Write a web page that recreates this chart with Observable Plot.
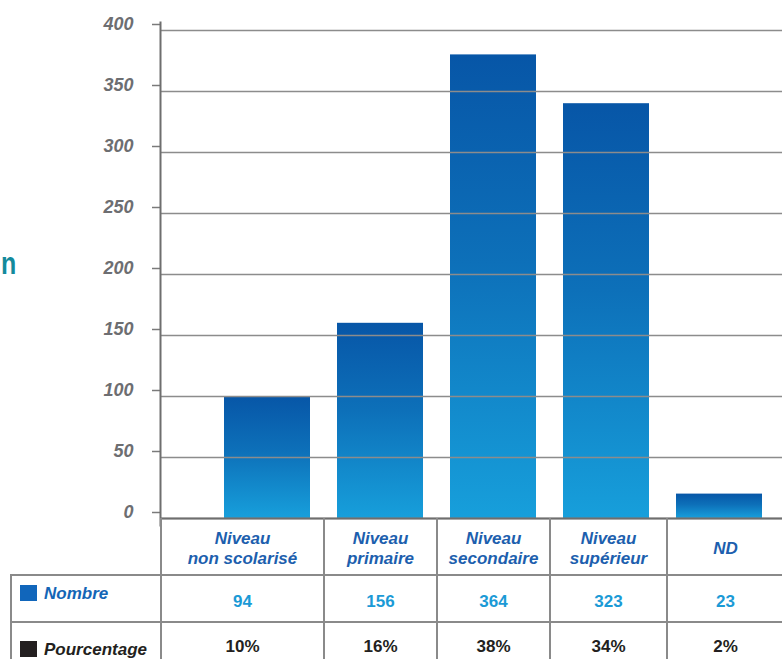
<!DOCTYPE html>
<html>
<head>
<meta charset="utf-8">
<script src="https://cdn.jsdelivr.net/npm/d3@7"></script>
<script src="https://cdn.jsdelivr.net/npm/@observablehq/plot@0.6"></script>
<style>
  html, body { margin: 0; padding: 0; background: #fff; }
  #wrap { position: relative; width: 782px; height: 659px; overflow: hidden; font-family: "Liberation Sans", Arial, sans-serif; }
  #chart { position: absolute; left: 0; top: 0; }
  #cut { position: absolute; left: 1px; top: 247px; font-size: 32px; font-weight: bold; color: #138a9c; line-height: 32px; white-space: nowrap; transform: scaleX(0.78); transform-origin: left center; }
  #tbl { position: absolute; left: 10px; top: 518px; width: 772px; border-collapse: collapse; table-layout: fixed; }
  #tbl td { border: 2px solid #8a8a8a; text-align: center; vertical-align: middle; padding: 0; font-weight: bold; font-size: 17px; }
  #tbl tr.hdr td { height: 57px; border-top: none; font-style: italic; color: #1d5fae; line-height: 20px; padding-top: 6px; box-sizing: border-box; }
  #tbl tr.num td { height: 47px; color: #1b9ad6; padding-top: 6px; box-sizing: border-box; }
  #tbl tr.pct td { height: 47px; color: #231f20; padding-top: 3px; box-sizing: border-box; }
  #tbl td.corner { border-left: none; border-top: none; border-bottom: 2px solid #8a8a8a; }
  #tbl td.last { border-right: none; }
  #tbl td.lab { text-align: left; font-style: italic; padding-left: 8px; white-space: nowrap; }
  #tbl td.lab span.sq { display: inline-block; width: 17px; height: 16px; margin-right: 7px; vertical-align: -2px; }
  #tbl tr.num td.lab { color: #1466b6; padding-top: 0; }
  #tbl tr.num td.lab .inner { position: relative; top: -5px; }
  #tbl tr.pct td.lab { padding-top: 0; }
  #tbl tr.pct td.lab .inner { position: relative; top: 4px; }
</style>
</head>
<body>
<div id="wrap">
  <div id="chart"></div>
  <div id="cut">n</div>
  <table id="tbl"></table>
</div>
<script>
// ---- data ----
const categories = ["Niveau non scolarisé", "Niveau primaire", "Niveau secondaire", "Niveau supérieur", "ND"];
const headerLines = [["Niveau", "non scolarisé"], ["Niveau", "primaire"], ["Niveau", "secondaire"], ["Niveau", "supérieur"], ["ND"]];
const barHeights = [100, 160, 380, 340, 20];       // bar heights as drawn in the picture
const nombre = [94, 156, 364, 323, 23];             // values printed in the table
const pourcentage = ["10%", "16%", "38%", "34%", "2%"];
const rowLabels = ["Nombre", "Pourcentage"];
const yTicks = [0, 50, 100, 150, 200, 250, 300, 350, 400];

const data = categories.map((c, i) => ({cat: c, h: barHeights[i]}));

const chart = Plot.plot({
  width: 782,
  height: 530,
  marginTop: 30,
  marginBottom: 12,
  marginLeft: 160,
  marginRight: 0,
  style: {background: "transparent", fontFamily: "'Liberation Sans', Arial, sans-serif", overflow: "visible"},
  x: {domain: categories, range: [209, 777], paddingInner: 0.24, paddingOuter: 0.12, axis: null},
  y: {domain: [0, 400], axis: null},
  marks: [
    Plot.barY(data, {x: "cat", y: "h", fill: "url(#barGrad)"}),
    Plot.gridY(yTicks, {stroke: "#8c8c8c", strokeOpacity: 1, strokeWidth: 1.5}),
    Plot.ruleY([0], {stroke: "#6e6e6e", strokeWidth: 2}),
    Plot.axisY(yTicks, {
      label: null,
      tickSize: 8, tickPadding: 19, dy: -6,
      stroke: "#7a7a7a", strokeWidth: 1.5, fill: "#6d6e71",
      fontSize: 18, fontWeight: "bold", fontStyle: "italic", tickFormat: d => String(d)
    }),
    Plot.frame({anchor: "left", stroke: "#6e6e6e", strokeWidth: 2, insetTop: -8, insetBottom: -7})
  ]
});

// gradient definition for the bars
const defs = d3.select(chart).insert("defs", ":first-child");
const grad = defs.append("linearGradient").attr("id", "barGrad")
  .attr("x1", 0).attr("y1", 0).attr("x2", 0).attr("y2", 1);
grad.append("stop").attr("offset", 0).attr("stop-color", "#0756a7");
grad.append("stop").attr("offset", 0.45).attr("stop-color", "#0d70b9");
grad.append("stop").attr("offset", 1).attr("stop-color", "#179fdb");

document.getElementById("chart").appendChild(chart);

// ---- table ----
const tbl = d3.select("#tbl");
const cg = tbl.append("colgroup");
[150, 163, 113, 113, 117, 116].forEach(w => cg.append("col").style("width", w + "px"));

const hdr = tbl.append("tr").attr("class", "hdr");
hdr.append("td").attr("class", "corner");
headerLines.forEach((lines, i) => {
  const td = hdr.append("td").classed("last", i === headerLines.length - 1);
  lines.forEach((l, j) => { if (j) td.append("br"); td.append("span").text(l); });
});

const squareColors = ["#1166bb", "#231f20"];
const rowsData = [nombre.map(String), pourcentage];
["num", "pct"].forEach((cls, r) => {
  const tr = tbl.append("tr").attr("class", cls);
  const lab = tr.append("td").attr("class", "lab").append("span").attr("class", "inner");
  lab.append("span").attr("class", "sq").style("background", squareColors[r]);
  lab.append("span").text(rowLabels[r]);
  rowsData[r].forEach((v, i) => tr.append("td").classed("last", i === rowsData[r].length - 1).text(v));
});
</script>
</body>
</html>
